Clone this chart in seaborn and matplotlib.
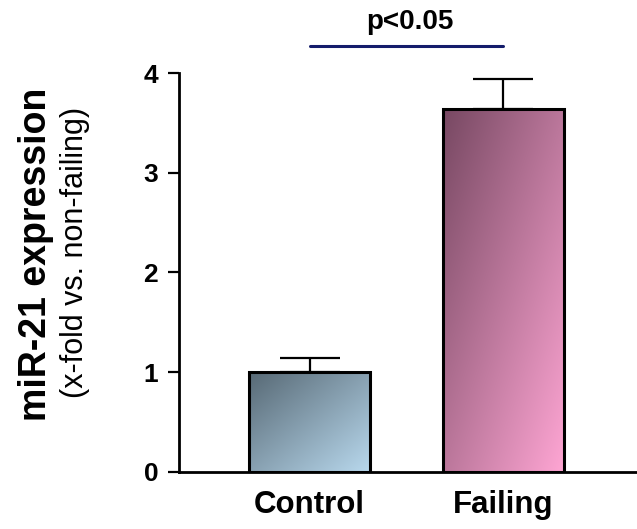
import numpy as np
import matplotlib
matplotlib.use('Agg')
import matplotlib.pyplot as plt
import seaborn as sns

# Data
groups = ['Control', 'Failing']
values = [1.0, 3.64]
errors = [0.14, 0.30]
y_ticks = [0, 1, 2, 3, 4]
p_label = 'p<0.05'

# gradient colours (top-left -> bottom-right)
grad_colors = [('#576975', '#b9d9ee'), ('#774862', '#ffa6d4')]

sns.set_style('ticks')
plt.rcParams['font.family'] = ['Liberation Sans', 'DejaVu Sans']
plt.rcParams['text.color'] = 'black'

fig = plt.figure(figsize=(6.37, 5.29), dpi=100)
ax = fig.add_axes([0.281, 0.108, 0.719, 0.754])

sns.barplot(x=groups, y=values, width=0.625, color='white', errorbar=None, ax=ax)

# gradient fill inside each bar
for patch, (c0, c1) in zip(ax.patches, grad_colors):
    x0, y0 = patch.get_x(), patch.get_y()
    w, h = patch.get_width(), patch.get_height()
    u = np.linspace(0, 1, 200)[None, :]
    v = np.linspace(0, 1, 200)[:, None]
    t = (0.5 * u + 0.5 * v)
    a = np.array(matplotlib.colors.to_rgb(c0))
    b = np.array(matplotlib.colors.to_rgb(c1))
    img = a[None, None, :] * (1 - t[..., None]) + b[None, None, :] * t[..., None]
    im = ax.imshow(img, extent=[x0, x0 + w, y0, y0 + h], origin='upper',
                   aspect='auto', zorder=1, interpolation='bilinear')
    im.set_clip_path(patch)
    patch.set_facecolor('none')
    patch.set_edgecolor('black')
    patch.set_linewidth(2.2)
    patch.set_zorder(3)

# upward error bars
ax.errorbar([0, 1], values, yerr=[[0, 0], errors], fmt='none', ecolor='black',
            elinewidth=1.6, capsize=21.5, capthick=1.6, zorder=2)

ax.set_xlim(-0.674, 1.69)
ax.set_ylim(0, 4)
ax.set_yticks(y_ticks)
ax.set_yticklabels([str(t) for t in y_ticks], fontsize=19, fontweight='bold')
ax.set_xticks([0, 1])
ax.set_xticklabels(groups, fontsize=22.5, fontweight='bold')
ax.tick_params(axis='y', length=8, width=1.6, pad=7, colors='black')
ax.tick_params(axis='x', length=0, pad=13, colors='black')
ax.set_xlabel('')
ax.set_ylabel('')

sns.despine(ax=ax)
for s in ['left', 'bottom']:
    ax.spines[s].set_linewidth(2)
    ax.spines[s].set_color('black')

# significance bar
ax.plot([0, 1], [4.27, 4.27], color='#141c6b', lw=2.2, clip_on=False)
ax.text(0.52, 4.38, p_label, ha='center', va='bottom', fontsize=20,
        fontweight='bold', clip_on=False)

# y-axis title (two lines, different weights)
fig.text(0.056, 0.52, 'miR-21 expression', rotation=90, ha='center', va='center',
         fontsize=27, fontweight='bold')
fig.text(0.118, 0.523, '(x-fold vs. non-failing)', rotation=90, ha='center',
         va='center', fontsize=22)

fig.savefig('out.png', dpi=100)
